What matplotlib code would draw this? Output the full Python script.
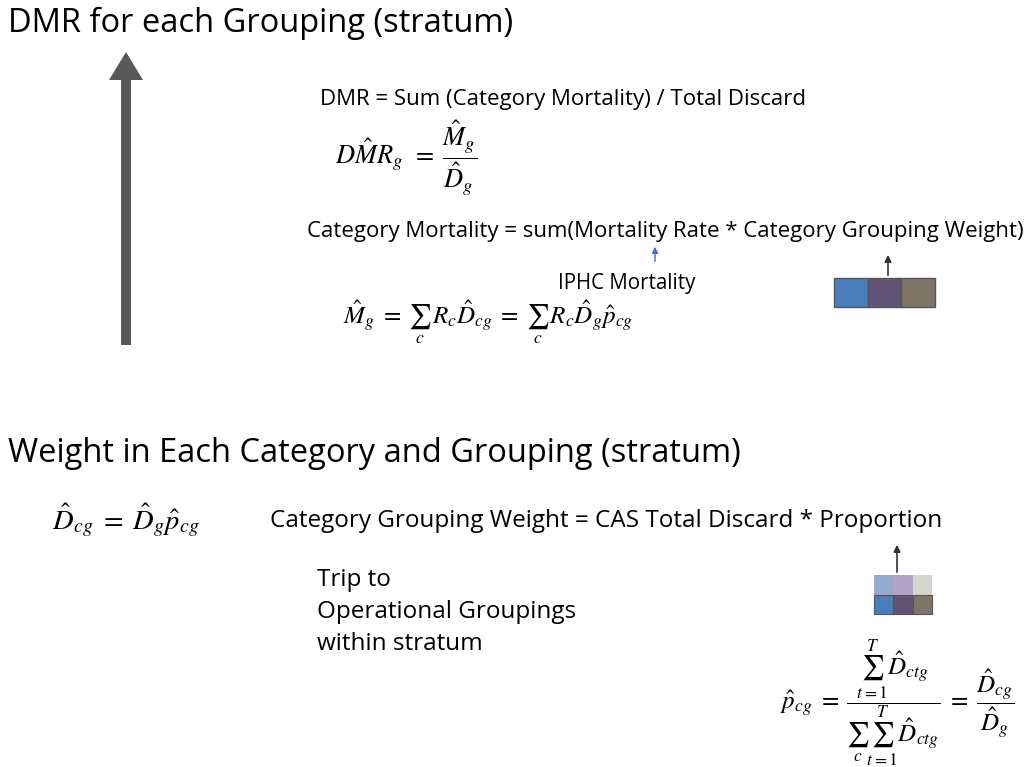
import matplotlib.pyplot as plt
from matplotlib.patches import Rectangle, FancyArrow

plt.rcParams['font.family'] = ['Open Sans', 'DejaVu Sans']
plt.rcParams['mathtext.fontset'] = 'stix'

# text content
titles = ["DMR for each Grouping (stratum)",
          "Weight in Each Category and Grouping (stratum)"]
lines = ["DMR = Sum (Category Mortality) / Total Discard",
         "Category Mortality = sum(Mortality Rate * Category Grouping Weight)",
         "IPHC Mortality",
         "Category Grouping Weight = CAS Total Discard * Proportion",
         "Trip to\nOperational Groupings\nwithin stratum"]
formulas = [r"$D\hat{M}R_g\;\, = \;\dfrac{\hat{M}_g}{\hat{D}_g}$",
            r"$\hat{M}_g\; = \;\sum_c\, R_c\hat{D}_{cg}\; = \;\sum_c\, R_c\hat{D}_g\hat{p}_{cg}$",
            r"$\hat{D}_{cg}\; = \;\hat{D}_g\hat{p}_{cg}$",
            r"$\hat{p}_{cg}\; = \;\dfrac{\sum_{t=1}^{T}\hat{D}_{ctg}}{\sum_c\sum_{t=1}^{T}\hat{D}_{ctg}}\; = \;\dfrac{\hat{D}_{cg}}{\hat{D}_g}$"]
dark_colors = ['#4a7ebb', '#5f5475', '#7f7667']
light_colors = ['#94a9cc', '#b3a3c8', '#d5d5d0']

fig = plt.figure(figsize=(10.25, 7.67), dpi=100)
ax = fig.add_axes([0, 0, 1, 1])
ax.set_xlim(0, 1025)
ax.set_ylim(767, 0)
ax.axis('off')

# headings
ax.text(8, 23, titles[0], fontsize=23.5, va='center', ha='left')
ax.text(8, 453, titles[1], fontsize=23.5, va='center', ha='left')

# big grey arrow
ax.add_patch(FancyArrow(126, 345, 0, -293, width=10, head_width=34,
                        head_length=28, length_includes_head=True,
                        color='#595959', lw=0))

# top section
ax.text(320, 100, lines[0], fontsize=16, va='center')
ax.text(335, 158, formulas[0], fontsize=19, va='center')
ax.text(307, 231, lines[1], fontsize=16, va='center')
ax.annotate('', xy=(655, 244), xytext=(655, 264),
            arrowprops=dict(arrowstyle='-|>', color='#4472c4', lw=1,
                            mutation_scale=9))
ax.text(558, 283, lines[2], fontsize=14.8, va='center')
ax.text(343, 322, formulas[1], fontsize=18, va='center')

# three boxes
for i, c in enumerate(dark_colors):
    ax.add_patch(Rectangle((834 + i * 33.5, 278), 33.5, 29, facecolor=c,
                           edgecolor='#555555', lw=1))
ax.annotate('', xy=(888, 252), xytext=(888, 278),
            arrowprops=dict(arrowstyle='-|>', color='#333333', lw=1.2,
                            mutation_scale=10))

# bottom section
ax.text(52, 520, formulas[2], fontsize=20.5, va='center')
ax.text(270, 521, lines[3], fontsize=17.5, va='center')
ax.text(317, 612, lines[4], fontsize=17.5, va='center', linespacing=1.42)

for i in range(3):
    ax.add_patch(Rectangle((874 + i * 19.3, 575), 19.3, 20,
                           facecolor=light_colors[i], edgecolor='none'))
    ax.add_patch(Rectangle((874 + i * 19.3, 595), 19.3, 19,
                           facecolor=dark_colors[i], edgecolor='#555555', lw=0.8))
ax.annotate('', xy=(897, 542), xytext=(897, 575),
            arrowprops=dict(arrowstyle='-|>', color='#333333', lw=1.2,
                            mutation_scale=10))

ax.text(780, 703, formulas[3], fontsize=18, va='center')

fig.savefig('out.png', dpi=100)
